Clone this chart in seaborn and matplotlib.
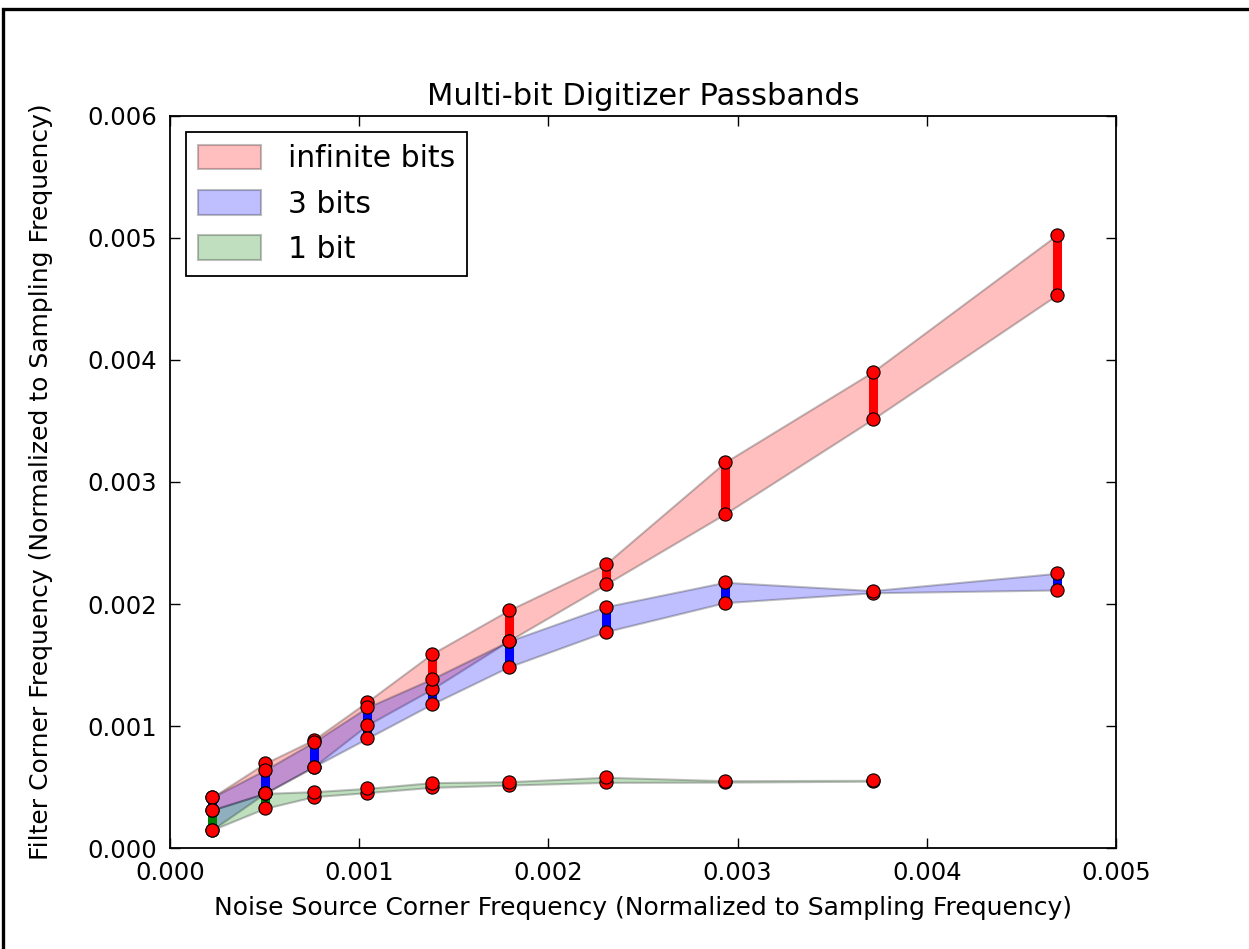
import numpy as np
import pandas as pd
import seaborn as sns
import matplotlib.pyplot as plt
from matplotlib.patches import Rectangle

# noise source corner frequencies (normalized)
freq = [0.000222, 0.000502, 0.000761, 0.001043, 0.001383,
        0.001793, 0.002303, 0.002933, 0.003714, 0.004690]

# passband edges
inf_hi = [0.000415, 0.000694, 0.000888, 0.001199, 0.001590,
          0.001951, 0.002328, 0.003161, 0.003902, 0.005027]
inf_lo = [0.000311, 0.000448, 0.000667, 0.001008, 0.001300,
          0.001700, 0.002161, 0.002738, 0.003514, 0.004535]

bit3_hi = [0.000415, 0.000639, 0.000870, 0.001153, 0.001385,
           0.001697, 0.001978, 0.002178, 0.002110, 0.002252]
bit3_lo = [0.000148, 0.000448, 0.000667, 0.000899, 0.001178,
           0.001486, 0.001773, 0.002011, 0.002092, 0.002115]

bit1_hi = [0.000311, 0.000448, 0.000462, 0.000489, 0.000536,
           0.000544, 0.000580, 0.000552, 0.000555]
bit1_lo = [0.000148, 0.000325, 0.000421, 0.000454, 0.000497,
           0.000516, 0.000538, 0.000540, 0.000548]

series = [
    ("infinite bits", "r", inf_lo, inf_hi),
    ("3 bits", "b", bit3_lo, bit3_hi),
    ("1 bit", "g", bit1_lo, bit1_hi),
]
green = (0, 0.5, 0)

sns.set_style("ticks", {"xtick.direction": "in", "ytick.direction": "in"})
plt.rcParams['font.family'] = ['DejaVu Sans']
plt.rcParams['text.color'] = 'k'
plt.rcParams['axes.labelcolor'] = 'k'

fig = plt.figure(figsize=(12.49, 9.49), dpi=100)
ax = fig.add_axes([0.136, 0.1064, 0.7575, 0.7714])

for label, c, lo, hi in series:
    col = green if c == "g" else c
    n = len(lo)
    x = freq[:n]
    ax.fill_between(x, lo, hi, facecolor=col, edgecolor="k", alpha=0.25,
                    linewidth=1.5, label=label)
    ax.vlines(x, lo, hi, colors=[col], linewidth=6.5, zorder=3)
    pts = pd.DataFrame({"x": x + x, "y": list(lo) + list(hi)})
    sns.scatterplot(data=pts, x="x", y="y", ax=ax, color="red", s=90,
                    edgecolor="k", linewidth=0.8, zorder=4, legend=False)

ax.set_xlim(0, 0.005)
ax.set_ylim(0, 0.006)
ax.set_xticks(np.arange(0, 0.0051, 0.001))
ax.set_yticks(np.arange(0, 0.0061, 0.001))
ax.xaxis.set_major_formatter(plt.FormatStrFormatter("%.3f"))
ax.yaxis.set_major_formatter(plt.FormatStrFormatter("%.3f"))
ax.tick_params(direction="in", top=True, right=True, length=7, width=1,
               labelsize=17.5, pad=9, color="k", labelcolor="k")
for sp in ax.spines.values():
    sp.set_linewidth(1.3)
    sp.set_color("k")

ax.set_title("Multi-bit Digitizer Passbands", fontsize=22, pad=8)
ax.set_xlabel("Noise Source Corner Frequency (Normalized to Sampling Frequency)",
              fontsize=18, labelpad=8)
ax.set_ylabel("Filter Corner Frequency (Normalized to Sampling Frequency)",
              fontsize=18, labelpad=25)

leg = ax.legend(loc="upper left", fontsize=21.5, fancybox=False, framealpha=1,
                edgecolor="k", borderaxespad=0.55, handlelength=2.1,
                handleheight=0.9, labelspacing=0.55, borderpad=0.4,
                handletextpad=0.9)
leg.get_frame().set_linewidth(1.3)

# outer frame of the screenshot
fig.patches.append(Rectangle((3 / 1249, -0.2), 2.0, 1.2 - 9 / 949,
                             transform=fig.transFigure, fill=False,
                             edgecolor="k", linewidth=2.4))

fig.savefig("out.png", dpi=100, facecolor="white")
